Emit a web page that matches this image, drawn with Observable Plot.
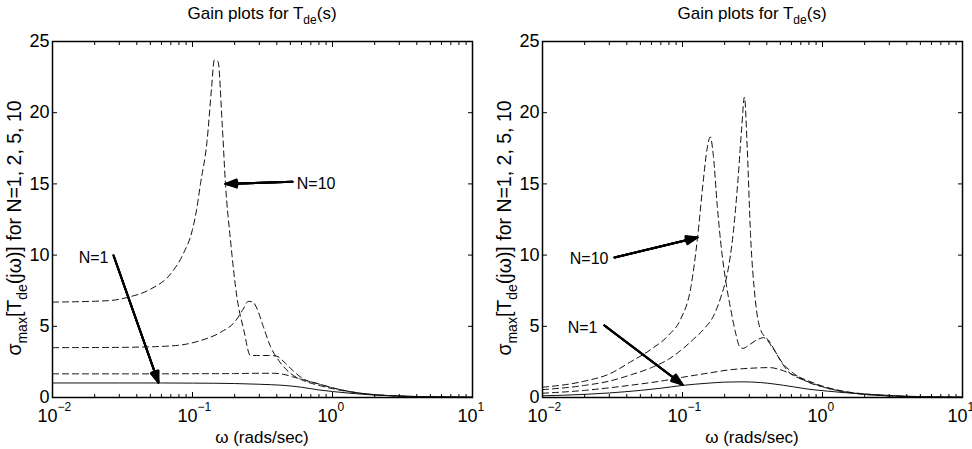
<!DOCTYPE html>
<html><head><meta charset="utf-8">
<script src="https://cdn.jsdelivr.net/npm/d3@7"></script>
<script src="https://cdn.jsdelivr.net/npm/@observablehq/plot@0.6"></script>
<style>
body{margin:0;background:#fff;}
#wrap{display:flex;width:972px;height:449px;font-family:"Liberation Sans",Arial,sans-serif;}
</style></head><body><div id="wrap"></div>
<script>
// ---------- data (frequency in rad/s, gain) ----------
// Left panel
const leftN1Freq  = [0.01, 0.03, 0.06, 0.1, 0.2, 0.3, 0.45, 0.6, 0.8, 1.0, 1.4, 2, 3, 5, 10];
const leftN1Gain  = [1.02, 1.02, 1.02, 1.01, 0.98, 0.93, 0.85, 0.72, 0.53, 0.42, 0.28, 0.17, 0.1, 0.05, 0.02];
const leftN2Freq  = [0.01, 0.05, 0.1, 0.2, 0.3, 0.38, 0.45, 0.52, 0.62, 0.8, 1.0, 1.4, 2, 3, 5, 10];
const leftN2Gain  = [1.66, 1.66, 1.67, 1.68, 1.7, 1.7, 1.62, 1.45, 1.25, 0.95, 0.68, 0.38, 0.2, 0.1, 0.05, 0.02];
const leftN5Freq  = [0.01, 0.03, 0.07, 0.11, 0.16, 0.2, 0.23, 0.25, 0.27, 0.29, 0.32, 0.36, 0.42, 0.5, 0.6, 0.8, 1.0, 1.4, 2, 3, 5, 10];
const leftN5Gain  = [3.5, 3.52, 3.62, 3.95, 4.6, 5.3, 6.2, 6.75, 6.7, 6.2, 5.0, 3.6, 2.5, 1.7, 1.25, 0.85, 0.62, 0.36, 0.2, 0.1, 0.05, 0.02];
const leftN10Freq = [0.01, 0.025, 0.035, 0.05, 0.07, 0.086, 0.1, 0.107, 0.114, 0.127, 0.137, 0.143, 0.152, 0.163, 0.172, 0.187, 0.208, 0.233, 0.259, 0.3, 0.35, 0.4, 0.45, 0.52, 0.62, 0.8, 1.0, 1.4, 2, 3, 5, 10];
const leftN10Gain = [6.7, 6.8, 7.05, 7.6, 8.7, 10.1, 11.8, 13.2, 15.0, 18.0, 21.8, 23.7, 23.6, 19.2, 15.0, 11.0, 7.0, 4.7, 2.95, 2.95, 2.95, 2.9, 2.5, 1.9, 1.3, 0.95, 0.68, 0.38, 0.2, 0.1, 0.05, 0.02];

// Right panel
const rightN1Freq  = [0.01, 0.02, 0.03, 0.05, 0.07, 0.1, 0.15, 0.2, 0.27, 0.36, 0.45, 0.62, 0.8, 1.08, 1.4, 1.87, 3.2, 5, 10];
const rightN1Gain  = [0.12, 0.22, 0.32, 0.5, 0.65, 0.85, 1.0, 1.08, 1.1, 1.05, 0.95, 0.75, 0.58, 0.45, 0.35, 0.26, 0.13, 0.06, 0.02];
const rightN2Freq  = [0.01, 0.02, 0.03, 0.05, 0.07, 0.1, 0.15, 0.22, 0.3, 0.42, 0.5, 0.6, 0.8, 1.0, 1.4, 2, 3, 5, 10];
const rightN2Gain  = [0.3, 0.5, 0.68, 0.95, 1.15, 1.42, 1.7, 1.95, 2.05, 2.1, 1.95, 1.65, 1.15, 0.8, 0.45, 0.25, 0.12, 0.05, 0.02];
const rightN5Freq  = [0.01, 0.02, 0.03, 0.043, 0.06, 0.08, 0.097, 0.12, 0.145, 0.166, 0.19, 0.21, 0.23, 0.25, 0.265, 0.277, 0.29, 0.306, 0.33, 0.36, 0.42, 0.5, 0.56, 0.7, 0.85, 1.0, 1.4, 2, 3, 5, 10];
const rightN5Gain  = [0.55, 0.85, 1.15, 1.6, 2.1, 2.7, 3.3, 4.1, 4.9, 5.7, 7.2, 8.8, 11.5, 15.5, 19.0, 21.1, 17.5, 11.5, 7.0, 4.8, 3.9, 2.6, 1.9, 1.3, 1.0, 0.75, 0.42, 0.22, 0.11, 0.05, 0.02];
const rightN10Freq = [0.01, 0.02, 0.03, 0.0425, 0.06, 0.08, 0.097, 0.115, 0.128, 0.14, 0.15, 0.158, 0.166, 0.177, 0.187, 0.205, 0.22, 0.24, 0.255, 0.27, 0.3, 0.34, 0.38, 0.44, 0.52, 0.62, 0.8, 1.0, 1.4, 2, 3, 5, 10];
const rightN10Gain = [0.72, 1.15, 1.65, 2.5, 3.4, 4.4, 5.5, 7.8, 11.2, 15.0, 17.5, 18.3, 17.0, 13.5, 11.0, 8.0, 6.3, 4.5, 3.6, 3.45, 3.7, 4.05, 4.2, 3.5, 2.4, 1.7, 1.05, 0.75, 0.42, 0.22, 0.11, 0.05, 0.02];

// Annotations (data coordinates)
const leftLabelText      = ["N=10", "N=1"];
const leftLabelFreq      = [1.05, 0.0251];
const leftLabelGain      = [15.03, 9.83];
const leftArrowTailFreq  = [0.518, 0.0273];
const leftArrowTailGain  = [15.15, 9.97];
const leftArrowHeadFreq  = [0.172, 0.0571];
const leftArrowHeadGain  = [15.0, 1.05];

const rightLabelText     = ["N=10", "N=1"];
const rightLabelFreq     = [0.0296, 0.0247];
const rightLabelGain     = [9.76, 4.92];
const rightArrowTailFreq = [0.0327, 0.0277];
const rightArrowTailGain = [9.83, 5.06];
const rightArrowHeadFreq = [0.128, 0.1];
const rightArrowHeadGain = [11.24, 0.91];

// Axes
const xMajorTicks = [0.01, 0.1, 1, 10];
const xMajorExponents = ["\u22122", "\u22121", "0", "1"];
const xMinorTicks = [0.02,0.03,0.04,0.05,0.06,0.07,0.08,0.09,0.2,0.3,0.4,0.5,0.6,0.7,0.8,0.9,2,3,4,5,6,7,8,9];
const yTicks = [0, 5, 10, 15, 20, 25];

// ---------- drawing ----------
const FS = 17, TICKFS = 18, ANNFS = 16;
function rows(freq, gain) { return freq.map((f, i) => ({f, g: gain[i]})); }

function panel({series, labels, arrows, marginLeft, marginRight}) {
  const W = 486, H = 449, MT = 41, MB = 52;
  const arrowMarks = [40, 30, 20, 10].map(a =>
    Plot.arrow(arrows, {x1: "x1", y1: "y1", x2: "x2", y2: "y2", stroke: "#000", strokeWidth: 2, headLength: 9, headAngle: a}));
  const plot = Plot.plot({
    width: W, height: H, marginTop: MT, marginBottom: MB, marginLeft, marginRight,
    style: {fontFamily: "Liberation Sans, Arial, sans-serif", fontSize: FS + "px", color: "#000", background: "#fff", overflow: "visible"},
    x: {type: "log", domain: [0.01, 10], label: null},
    y: {domain: [0, 25], label: null},
    marks: [
      ...series.map(s => Plot.line(rows(s.freq, s.gain), {
        x: "f", y: "g", stroke: "#111", strokeWidth: 1,
        strokeDasharray: s.dashed ? "6,4" : null, curve: "monotone-x"
      })),
      ...arrowMarks,
      Plot.text(labels, {x: "x", y: "y", text: "text", textAnchor: "end", fontSize: ANNFS}),
      // ticks (inward)
      Plot.axisX({ticks: xMajorTicks, anchor: "bottom", tickSize: -5, fill: "none", label: null}),
      Plot.axisX({ticks: xMinorTicks, anchor: "bottom", tickSize: -3, fill: "none", label: null}),
      Plot.axisX({ticks: xMajorTicks, anchor: "top", tickSize: -5, fill: "none", label: null}),
      Plot.axisX({ticks: xMinorTicks, anchor: "top", tickSize: -3, fill: "none", label: null}),
      Plot.axisY({ticks: yTicks, anchor: "left", tickSize: -5, fill: "none", label: null}),
      Plot.axisY({ticks: yTicks, anchor: "right", tickSize: -5, fill: "none", label: null}),
      Plot.axisY({ticks: yTicks, anchor: "left", tickSize: 0, tickPadding: 3, label: null, fontSize: TICKFS}),
      // x tick labels 10^k
      Plot.text(xMajorTicks, {x: d => d, frameAnchor: "bottom", text: () => "10", textAnchor: "end", dx: 5, dy: 24, fontSize: TICKFS}),
      Plot.text(xMajorTicks, {x: d => d, frameAnchor: "bottom", text: (d, i) => xMajorExponents[i], textAnchor: "start", dx: 5, dy: 13, fontSize: 12}),
      Plot.frame({stroke: "#000", strokeWidth: 1.5})
    ]
  });
  const svg = d3.select(plot);
  const cx = (marginLeft + W - marginRight) / 2;
  // title
  const t = svg.append("text").attr("x", cx).attr("y", 19).attr("text-anchor", "middle").attr("font-size", FS).attr("fill", "#000");
  t.append("tspan").text("Gain plots for T");
  t.append("tspan").attr("dy", 5).attr("font-size", 12).text("de");
  t.append("tspan").attr("dy", -5).text("(s)");
  // x label
  svg.append("text").attr("x", cx).attr("y", 443).attr("text-anchor", "middle").attr("font-size", FS).attr("fill", "#000").text("\u03c9 (rads/sec)");
  // y label
  const yl = svg.append("text").attr("transform", `translate(${marginLeft - 31},${228}) rotate(-90)`)
    .attr("text-anchor", "middle").attr("font-size", 19.5).attr("fill", "#000");
  yl.append("tspan").text("\u03c3");
  yl.append("tspan").attr("dy", 6).attr("font-size", 14).text("max");
  yl.append("tspan").attr("dy", -6).text("[T");
  yl.append("tspan").attr("dy", 6).attr("font-size", 14).text("de");
  yl.append("tspan").attr("dy", -6).text("(j\u03c9)] for N=1, 2, 5, 10");
  return plot;
}

function annots(text, lf, lg, tf, tg, hf, hg) {
  return {
    labels: text.map((s, i) => ({text: s, x: lf[i], y: lg[i]})),
    arrows: text.map((s, i) => ({x1: tf[i], y1: tg[i], x2: hf[i], y2: hg[i]}))
  };
}

const la = annots(leftLabelText, leftLabelFreq, leftLabelGain, leftArrowTailFreq, leftArrowTailGain, leftArrowHeadFreq, leftArrowHeadGain);
const ra = annots(rightLabelText, rightLabelFreq, rightLabelGain, rightArrowTailFreq, rightArrowTailGain, rightArrowHeadFreq, rightArrowHeadGain);

const wrap = document.getElementById("wrap");
wrap.appendChild(panel({
  series: [
    {freq: leftN1Freq, gain: leftN1Gain, dashed: false},
    {freq: leftN2Freq, gain: leftN2Gain, dashed: true},
    {freq: leftN5Freq, gain: leftN5Gain, dashed: true},
    {freq: leftN10Freq, gain: leftN10Gain, dashed: true}
  ],
  labels: la.labels, arrows: la.arrows, marginLeft: 52, marginRight: 14
}));
wrap.appendChild(panel({
  series: [
    {freq: rightN1Freq, gain: rightN1Gain, dashed: false},
    {freq: rightN2Freq, gain: rightN2Gain, dashed: true},
    {freq: rightN5Freq, gain: rightN5Gain, dashed: true},
    {freq: rightN10Freq, gain: rightN10Gain, dashed: true}
  ],
  labels: ra.labels, arrows: ra.arrows, marginLeft: 56, marginRight: 10
}));
</script></body></html>
